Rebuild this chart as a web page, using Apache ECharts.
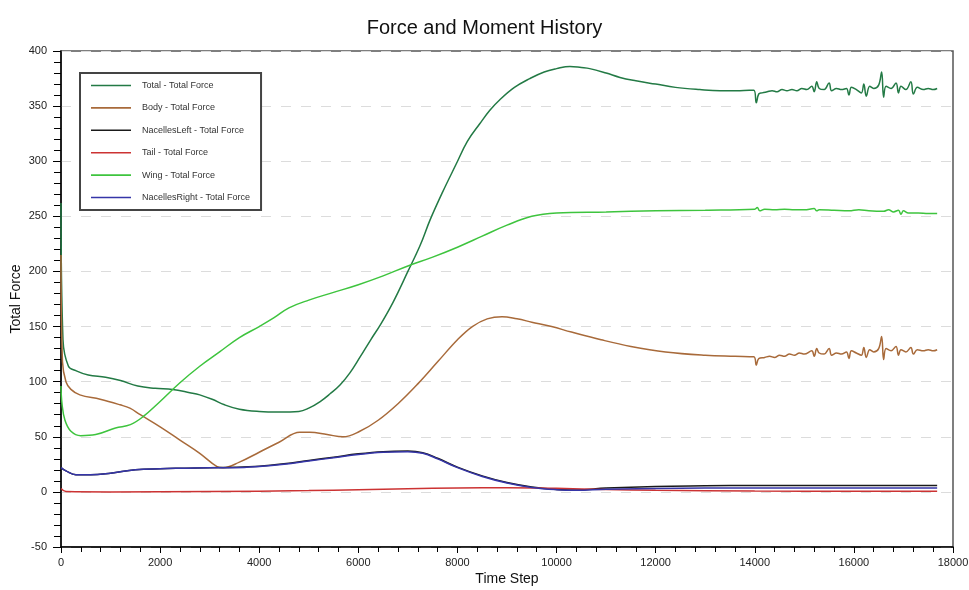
<!DOCTYPE html>
<html>
<head>
<meta charset="utf-8">
<title>Force and Moment History</title>
<script src="https://cdn.jsdelivr.net/npm/echarts@6/dist/echarts.min.js"></script>
<style>
  html, body { margin: 0; padding: 0; background: #ffffff; }
  #chart { width: 969px; height: 590px; }
</style>
</head>
<body>
<div id="chart"></div>
<script>
// Time step / total force history for each component
const totalForce = [
  [0,262],[40,138],[150,114],[300,110],[550,106],[900,104],[1200,101],[1550,96],[1900,94],
  [2250,93],[2600,90],[2800,88],[3050,84],[3300,79],[3600,75],[4000,73],[4400,72.5],[4800,73],
  [5000,76],[5230,82],[5430,89],[5630,97],[5830,108],[6030,122],[6250,138],[6450,152],[6700,172],
  [7000,200],[7250,224],[7450,247],[7700,272],[7970,297],[8200,318],[8450,334],[8650,346],
  [8860,356],[9150,367],[9460,375],[9750,381],[10000,384],[10270,386],[10500,385],[10670,384],
  [11000,380],[11280,376],[11600,373],[12000,370],[12400,367],[12890,365],[13300,364],[13700,364],
  [13980,364.5],[14030,353],[14080,361],[14150,362],[14250,363],[14350,364],[14450,363],[14550,365],
  [14650,364],[14750,365],[14850,364],[14950,366],[15050,365],[15150,368],[15200,363],[15250,372],
  [15300,366],[15400,365],[15500,371],[15550,364],[15650,366],[15750,365],[15850,366],[15900,360],
  [15950,367],[16050,365],[16150,362],[16200,370],[16250,359],[16320,368],[16400,366],[16500,369],
  [16560,381],[16600,358],[16650,368],[16750,366],[16850,371],[16900,362],[16950,368],[17050,365],
  [17150,372],[17200,361],[17280,367],[17400,365],[17500,366],[17600,365],[17680,366]
];

const bodyForce = [
  [0,215],[30,118],[100,100],[200,93],[380,88],[790,84],[1190,79],[1390,76],[1600,70],[2000,59],
  [2400,47],[2800,35],[3150,23],[3270,22],[3600,27],[4000,36],[4400,45],[4820,54],[5020,54],
  [5370,52],[5690,50],[6030,55],[6400,65],[6800,80],[7200,98],[7600,118],[8000,138],[8300,150],
  [8600,157],[8900,159],[9200,157],[9500,154],[9900,150],[10300,145],[10900,138],[11500,132],
  [12200,127],[13000,124],[13600,123],[13980,122.5],[14030,115],[14080,121],[14200,122],[14300,123],
  [14400,122],[14500,124],[14600,123],[14700,125],[14800,124],[14900,126],[15000,125],[15150,128],
  [15200,123],[15250,130],[15300,126],[15400,125],[15500,130],[15550,124],[15650,126],[15750,125],
  [15850,127],[15900,121],[15950,128],[16050,126],[16150,124],[16200,131],[16250,122],[16320,129],
  [16400,127],[16500,130],[16560,141],[16600,120],[16650,130],[16750,128],[16850,132],[16900,124],
  [16950,129],[17050,127],[17150,131],[17200,125],[17280,129],[17400,128],[17500,129],[17600,128],
  [17680,129]
];

const nacellesLeftForce = [
  [0,22],[100,19],[300,15.5],[600,15.5],[1000,17],[1500,20],[2000,21],[2500,21.5],[3000,22],
  [3500,22.3],[4000,23.3],[4500,25.5],[5000,28.5],[5500,31.5],[6000,34.5],[6500,36.5],[7000,37],
  [7300,35.5],[7600,30.5],[8000,22.5],[8500,14.5],[9000,8.5],[9500,4.5],[10000,2.2],[10400,1.8],
  [11000,3.5],[12000,5],[13000,5.5],[14000,5.8],[16000,5.8],[17680,5.7]
];

const tailForce = [
  [0,3],[100,0.3],[1000,0],[3000,0.3],[5000,1.2],[6000,2],[7000,2.8],[8000,3.5],[9000,3.7],
  [10000,3.2],[11000,2.2],[12000,1.5],[14000,0.8],[16000,0.6],[17680,0.5]
];

const wingForce = [
  [0,96],[20,80],[80,65],[200,55],[400,51],[700,52],[1100,58],[1400,61],[1650,68],[2000,82],
  [2400,99],[2800,114],[3200,127],[3600,140],[4000,150],[4300,158],[4600,167],[5000,174],[5500,181],
  [6000,188],[6500,196],[7000,205],[7500,213],[8000,222],[8500,232],[9000,242],[9500,250],[10000,253],
  [11000,254],[12000,255],[13000,255.5],[14000,256.5],[14050,258],[14100,255],[14200,256.5],
  [14400,256],[14600,256.5],[14800,256],[15000,256],[15200,257],[15250,255],[15300,256],[15600,255.5],
  [15900,255],[16100,256],[16300,255],[16600,254.5],[16700,256],[16800,254],[16900,255.5],[16950,252],
  [17000,255],[17100,253],[17300,253],[17500,252.5],[17680,252.5]
];

const nacellesRightForce = [
  [0,22],[100,19],[300,15.5],[600,15.5],[1000,17],[1500,20],[2000,21],[2500,21.5],[3000,22],
  [3500,22],[4000,23],[4500,25],[5000,28],[5500,31],[6000,34],[6500,36],[7000,36.5],[7300,35],
  [7600,30],[8000,22],[8500,14],[9000,8],[9500,4],[10000,2],[10400,1.5],[11000,2.5],[12000,3],
  [13000,3.5],[14000,3.6],[16000,3.6],[17680,3.5]
];

const seriesNames = [
  'Total - Total Force',
  'Body - Total Force',
  'NacellesLeft - Total Force',
  'Tail - Total Force',
  'Wing - Total Force',
  'NacellesRight - Total Force'
];
const seriesData = [totalForce, bodyForce, nacellesLeftForce, tailForce, wingForce, nacellesRightForce];
const seriesColors = ['#237a45', '#a86a3a', '#1a1a1a', '#cc3333', '#3ec43e', '#3535a8'];

const FONT = 'Liberation Sans, Arial, sans-serif';

const chart = echarts.init(document.getElementById('chart'), null, { renderer: 'canvas' });

chart.setOption({
  animation: false,
  backgroundColor: '#ffffff',
  title: {
    text: 'Force and Moment History',
    left: 'center',
    top: 13,
    textStyle: { fontFamily: FONT, fontSize: 20, fontWeight: 'normal', color: '#111' }
  },
  legend: {
    orient: 'vertical',
    left: 80,
    top: 73,
    padding: [7, 11, 7, 11],
    backgroundColor: '#ffffff',
    borderColor: '#444',
    borderWidth: 2,
    itemWidth: 40,
    itemHeight: 1.6,
    itemGap: 11.4,
    icon: 'rect',
    selectedMode: false,
    data: seriesNames,
    textStyle: { fontFamily: FONT, fontSize: 9, color: '#333', padding: [0, 0, 0, 6], lineHeight: 11 }
  },
  grid: {
    left: 61,
    right: 16,
    top: 51,
    bottom: 43,
    outerBoundsMode: 'none',
    containLabel: false,
    show: true,
    borderColor: '#555',
    borderWidth: 1.5
  },
  xAxis: {
    type: 'value',
    min: 0,
    max: 18000,
    interval: 2000,
    name: 'Time Step',
    nameLocation: 'middle',
    nameGap: 25,
    nameMoveOverlap: false,
    nameTextStyle: { fontFamily: FONT, fontSize: 14, color: '#111' },
    axisLine: { show: true, onZero: false, lineStyle: { color: '#000', width: 1.5 } },
    axisTick: { show: true, length: 6, lineStyle: { color: '#000' } },
    minorTick: { show: true, splitNumber: 5, length: 5, lineStyle: { color: '#000' } },
    axisLabel: { fontFamily: FONT, fontSize: 11, color: '#222', margin: 10, formatter: (v) => String(v) },
    splitLine: { show: false }
  },
  yAxis: {
    type: 'value',
    min: -50,
    max: 400,
    interval: 50,
    name: 'Total Force',
    nameLocation: 'middle',
    nameGap: 38,
    nameMoveOverlap: false,
    nameTextStyle: { fontFamily: FONT, fontSize: 14, color: '#111' },
    axisLine: { show: true, lineStyle: { color: '#000', width: 1.5 } },
    axisTick: { show: true, length: 8, lineStyle: { color: '#000' } },
    minorTick: { show: true, splitNumber: 5, length: 7, lineStyle: { color: '#000' } },
    axisLabel: { fontFamily: FONT, fontSize: 11, color: '#222', margin: 14, formatter: (v) => String(v) },
    splitLine: { show: true, lineStyle: { color: '#dcdcdc', type: [10, 10], width: 1 } }
  },
  series: seriesNames.map((name, i) => ({
    name: name,
    type: 'line',
    data: seriesData[i],
    showSymbol: false,
    symbol: 'none',
    smooth: 0.4,
    color: seriesColors[i],
    lineStyle: { color: seriesColors[i], width: 1.5 },
    z: 2 + i
  }))
});
</script>
</body>
</html>
